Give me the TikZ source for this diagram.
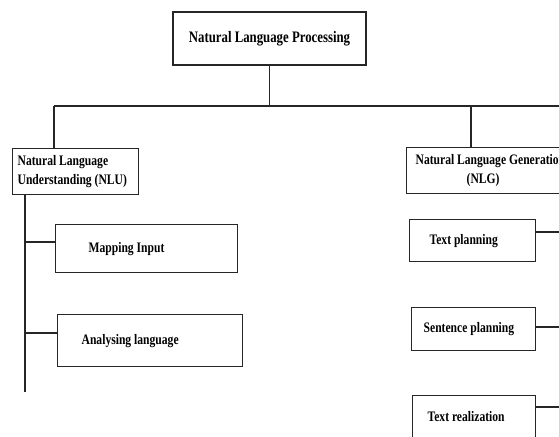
\documentclass[tikz,border=0pt]{standalone}
\usepackage{fontspec}
\setmainfont{Liberation Serif}[FakeStretch=0.8]
\begin{document}
\begin{tikzpicture}[x=1pt,y=-1pt,
  ln/.style={line width=1.3pt, draw=black!85},
  box/.style={draw=black!85, line width=1.3pt, anchor=north west, inner ysep=0pt,
    align=flush left, font=\fontsize{14.5}{19}\selectfont\bfseries}]
\useasboundingbox (0,0) rectangle (559,436);
\clip (0,0) rectangle (559,436);
% boxes
\node[box, anchor=center, align=center, minimum width=193pt, minimum height=53pt,
  font=\fontsize{16}{18}\selectfont\bfseries] (nlp) at (269.5,38.5) {Natural Language Processing};
\node[box, minimum height=46pt, inner xsep=5pt, text width=116pt] (nlu) at (12,148)
  {Natural Language\\Understanding (NLU)};
\node[box, minimum height=48pt, inner xsep=33pt, text width=116pt] (map) at (55,224) {Mapping Input};
\node[box, minimum height=52pt, inner xsep=24pt, text width=137pt] (ana) at (57,314) {Analysing language};
\node[box, minimum height=46pt, inner xsep=9pt, text width=160pt] (nlg) at (406,147)
  {Natural Language Generation\\\hspace*{51pt}(NLG)};
\node[box, minimum height=42pt, inner xsep=20pt, text width=86pt] (tp) at (409,219) {Text planning};
\node[box, minimum height=43pt, inner xsep=12pt, text width=100pt] (sp) at (411,307) {Sentence planning};
\node[box, minimum height=42pt, inner xsep=15pt, text width=93pt] (tr) at (412,395) {Text realization};
% coordinates
\coordinate (hL) at (54,106);
\coordinate (hR) at (600,106);
\coordinate (gtop) at (471,106);
\coordinate (lbot) at (25,392);
\coordinate (rtr) at (600,0);
% connectors
\draw[ln] (nlp.south) -- (nlp.south |- hL);
\draw[ln] (hL) -- (hR);
\draw[ln] (hL) -- (hL |- nlu.north);
\draw[ln] (gtop) -- (gtop |- nlg.north);
\draw[ln] (nlu.south -| lbot) -- (lbot);
\draw[ln] (map.north west) ++(0,18) coordinate (m1) -- (m1 -| lbot);
\draw[ln] (ana.north west) ++(0,19) coordinate (a1) -- (a1 -| lbot);
\draw[ln] (tp.north east) ++(0,13) coordinate (t1) -- (t1 -| rtr);
\draw[ln] (sp.north east) ++(0,20) coordinate (s1) -- (s1 -| rtr);
\draw[ln] (tr.north east) ++(0,12) coordinate (r1) -- (r1 -| rtr);
\end{tikzpicture}
\end{document}
